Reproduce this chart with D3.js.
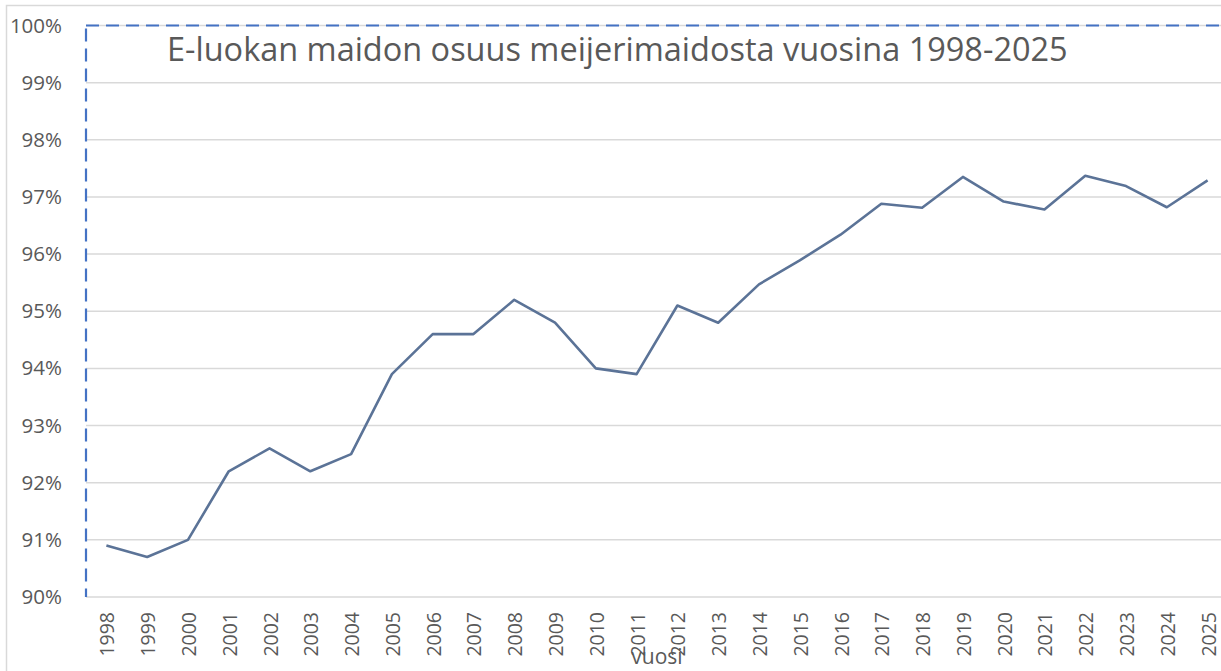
<!DOCTYPE html>
<html>
<head>
<meta charset="utf-8">
<script src="https://cdn.jsdelivr.net/npm/d3@7"></script>
<style>
  html, body { margin: 0; padding: 0; background: #fff; }
  svg { display: block; }
  text { font-family: "Open Sans", "Liberation Sans", sans-serif; fill: #595959; }
</style>
</head>
<body>
<svg id="chart" width="1221" height="671"></svg>
<script>
const years = ["1998","1999","2000","2001","2002","2003","2004","2005","2006","2007",
  "2008","2009","2010","2011","2012","2013","2014","2015","2016","2017",
  "2018","2019","2020","2021","2022","2023","2024","2025"];
const shares = [0.9090,0.9070,0.9100,0.9220,0.9260,0.9220,0.9250,0.9390,0.9460,0.9460,
  0.9520,0.9480,0.9400,0.9390,0.9510,0.9480,0.9547,0.9589,0.9634,0.9688,
  0.9681,0.9735,0.9692,0.9678,0.9737,0.9719,0.9682,0.9729];
const yTicks = [0.90,0.91,0.92,0.93,0.94,0.95,0.96,0.97,0.98,0.99,1.00];
const titleText = "E-luokan maidon osuus meijerimaidosta vuosina 1998-2025";
const xTitle = "vuosi";

const svg = d3.select("#chart");
const plotLeft = 86, plotRight = 1228, plotTop = 25.5, plotBottom = 597;

// outer chart border
svg.append("rect").attr("x", 6.5).attr("y", 5.5).attr("width", 1240).attr("height", 700)
  .attr("fill", "none").attr("stroke", "#d9d9d9").attr("stroke-width", 1.5);

const x = d3.scalePoint().domain(years).range([plotLeft, plotRight]).padding(0.5);
const y = d3.scaleLinear().domain([0.90, 1.00]).range([plotBottom, plotTop]);

// gridlines
svg.append("g").selectAll("line").data(yTicks).join("line")
  .attr("x1", plotLeft).attr("x2", plotRight)
  .attr("y1", d => y(d)).attr("y2", d => y(d))
  .attr("stroke", "#d9d9d9").attr("stroke-width", 1.5);

// y axis labels
const yAxis = d3.axisLeft(y).tickValues(yTicks).tickFormat(d3.format(".0%")).tickSize(0).tickPadding(0);
const gy = svg.append("g").attr("transform", `translate(${62},0)`).call(yAxis);
gy.select(".domain").remove();
gy.selectAll("text").attr("font-size", 20.5).attr("fill", "#595959")
  .style("font-family", "'Open Sans', sans-serif");

// x axis labels
const xAxis = d3.axisBottom(x).tickSize(0).tickPadding(0);
const gx = svg.append("g").attr("transform", `translate(0,${plotBottom})`).call(xAxis);
gx.select(".domain").remove();
gx.selectAll("text")
  .attr("font-size", 19.5).attr("fill", "#595959")
  .style("font-family", "'Open Sans', sans-serif")
  .attr("text-anchor", "end")
  .attr("dy", null).attr("y", 0)
  .attr("transform", "translate(0,15) rotate(-90)")
  .attr("dominant-baseline", "central");

// dashed selection border (left and top)
svg.append("line").attr("x1", plotLeft).attr("x2", plotLeft).attr("y1", plotTop + 3).attr("y2", plotBottom)
  .attr("stroke", "#4472c4").attr("stroke-width", 2.2).attr("stroke-dasharray", "13,7");
svg.append("line").attr("x1", plotLeft).attr("x2", 1221).attr("y1", plotTop).attr("y2", plotTop)
  .attr("stroke", "#4472c4").attr("stroke-width", 2.2).attr("stroke-dasharray", "13,7");

// line
const line = d3.line().x((d, i) => x(years[i])).y(d => y(d));
svg.append("path").datum(shares).attr("d", line)
  .attr("fill", "none").attr("stroke", "#5b7397").attr("stroke-width", 2.6)
  .attr("stroke-linejoin", "round");

// title
const t = svg.append("text").attr("x", 167).attr("y", 61).attr("font-size", 30).text(titleText);
const w = t.node().getComputedTextLength();
t.attr("font-size", 30 * 901 / w);

// x axis title
svg.append("text").attr("x", 657).attr("y", 664).attr("text-anchor", "middle")
  .attr("font-size", 21).text(xTitle);
</script>
</body>
</html>
